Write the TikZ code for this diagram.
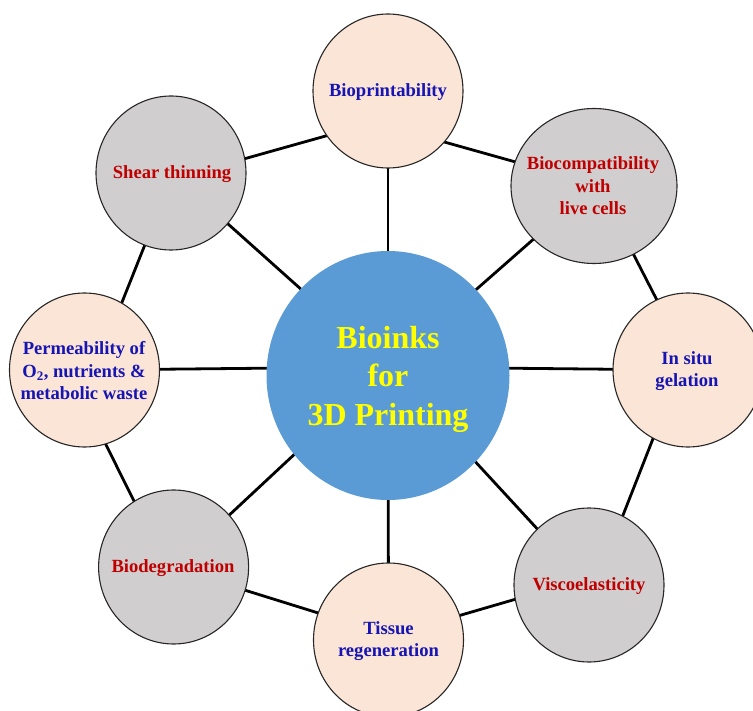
\documentclass[tikz,border=0pt]{standalone}
\usepackage{fontspec}
\setmainfont{Liberation Serif}
\usetikzlibrary{shapes.geometric,backgrounds}
\definecolor{pinkfill}{RGB}{251,229,214}
\definecolor{grayfill}{RGB}{208,206,206}
\definecolor{hubblue}{RGB}{91,155,213}
\definecolor{txtblue}{RGB}{22,20,178}
\definecolor{txtred}{RGB}{192,0,0}
\definecolor{txtyellow}{RGB}{255,255,0}
\tikzset{
  bubble/.style={ellipse, inner sep=0pt, minimum width=150pt, minimum height=154pt,
                 draw=black!85, line width=1.1pt},
  pinkbub/.style={bubble, fill=pinkfill},
  graybub/.style={bubble, fill=grayfill},
  lbl/.style={inner sep=0pt, align=center, font=\fontsize{18.6}{22.5}\selectfont\bfseries},
  bluelbl/.style={lbl, text=txtblue},
  redlbl/.style={lbl, text=txtred},
  link/.style={line width=2.8pt, black, shorten <=-2pt, shorten >=-2pt},
}
\begin{document}
\begin{tikzpicture}[x=1pt,y=-1pt]
\useasboundingbox (0,0) rectangle (753,711);
% outer bubbles
\node[pinkbub] (bp) at (388,91) {};
\node[graybub, minimum width=166pt, minimum height=155pt] (bc) at (594,186) {};
\node[pinkbub] (is) at (688,370) {};
\node[graybub] (vi) at (589,585) {};
\node[pinkbub] (ts) at (388.5,640) {};
\node[graybub] (bd) at (173.6,567) {};
\node[pinkbub] (pm) at (84.5,370) {};
\node[graybub] (sh) at (171,173) {};
% centre
\node[ellipse, inner sep=0pt, minimum width=243pt, minimum height=249pt, fill=hubblue] (c) at (388,375.5) {};
\coordinate (hub) at (388,367);
% connectors
\begin{pgfonlayer}{background}
\foreach \n in {bp,bc,is,vi,ts,bd,pm,sh} \draw[link] (hub) -- (\n);
\draw[link] (sh.11) -- (bp.216);
\draw[link] (bp.318) -- (bc.163);
\draw[link] (bc.300) -- (is.114);
\draw[link] (is.243) -- (vi.64);
\draw[link] (vi.191) -- (ts.19);
\draw[link] (ts.159) -- (bd.342);
\draw[link] (bd.121) -- (pm.286);
\draw[link] (pm.61) -- (sh.250);
\end{pgfonlayer}
% labels
\node[inner sep=0pt, align=center, text=txtyellow, font=\fontsize{32}{38.5}\selectfont\bfseries] (ct) at (388,379) {Bioinks\\for\\3D Printing};
\node[bluelbl] (bpt) at (388,92.5) {Bioprintability};
\node[redlbl] (bct) at (593,186) {Biocompatibility\\with\\live cells};
\node[bluelbl] (ist) at (687,371) {In situ\\gelation};
\node[redlbl] (vit) at (589,586) {Viscoelasticity};
\node[bluelbl] (tst) at (388.5,641) {Tissue\\regeneration};
\node[redlbl] (bdt) at (173,568) {Biodegradation};
\node[bluelbl] (pmt) at (84,371) {Permeability of\\O\textsubscript{2}, nutrients \&\\metabolic waste};
\node[redlbl] (sht) at (172,174) {Shear thinning};
\end{tikzpicture}
\end{document}
